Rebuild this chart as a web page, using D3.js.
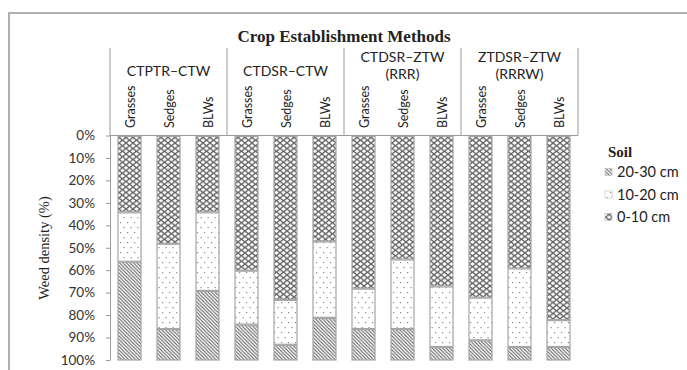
<!DOCTYPE html>
<html>
<head>
<meta charset="utf-8">
<script src="https://cdn.jsdelivr.net/npm/d3@7"></script>
<style>
  html, body { margin: 0; padding: 0; background: #fff; }
  svg { display: block; }
</style>
</head>
<body>
<svg id="chart" width="687" height="370"></svg>
<script>
// Crop establishment methods (groups) and weed categories
const groups = [
  ["CTPTR–CTW"],
  ["CTDSR–CTW"],
  ["CTDSR–ZTW", "(RRR)"],
  ["ZTDSR–ZTW", "(RRRW)"]
];
const categories = ["Grasses", "Sedges", "BLWs"];

// Share of weed density (%) by soil depth, one value per group × category
const soil0to10  = [34, 48, 34, 60, 73, 47, 68, 55, 67, 72, 59, 82];
const soil10to20 = [22, 38, 35, 24, 20, 34, 18, 31, 27, 19, 35, 12];
const soil20to30 = [44, 14, 31, 16,  7, 19, 14, 14,  6,  9,  6,  6];

const yTicks = [0, 10, 20, 30, 40, 50, 60, 70, 80, 90, 100];
const legendLabels = ["20-30 cm", "10-20 cm", "0-10 cm"];

const rows = [];
groups.forEach((g, gi) => {
  categories.forEach((c, ci) => {
    const i = gi * categories.length + ci;
    rows.push({ group: gi, cat: c,
      d0: soil0to10[i] / 100, d1: soil10to20[i] / 100, d2: soil20to30[i] / 100 });
  });
});

const svg = d3.select("#chart");
const sans = "Lato, 'Open Sans', sans-serif";
const serif = "'Liberation Serif', 'DejaVu Serif', serif";
const grey = "#9a9a9a";

// ---- fill patterns ----
const defs = svg.append("defs");
const cross = defs.append("pattern").attr("id", "p-cross")
  .attr("patternUnits", "userSpaceOnUse").attr("width", 7).attr("height", 5.5);
cross.append("rect").attr("width", 7).attr("height", 5.5).attr("fill", "#fff");
cross.append("path").attr("d", "M0,0L7,5.5M7,0L0,5.5")
  .attr("stroke", "#666").attr("stroke-width", 1.3);

const dots = defs.append("pattern").attr("id", "p-dots")
  .attr("patternUnits", "userSpaceOnUse").attr("width", 7).attr("height", 10);
dots.append("rect").attr("width", 7).attr("height", 10).attr("fill", "#fff");
dots.append("rect").attr("x", 1).attr("y", 2).attr("width", 1.2).attr("height", 1.2).attr("fill", "#888");
dots.append("rect").attr("x", 4.5).attr("y", 7).attr("width", 1.2).attr("height", 1.2).attr("fill", "#888");

const diag = defs.append("pattern").attr("id", "p-diag")
  .attr("patternUnits", "userSpaceOnUse").attr("width", 3.5).attr("height", 3.5);
diag.append("rect").attr("width", 3.5).attr("height", 3.5).attr("fill", "#fff");
diag.append("path").attr("d", "M-1,-1L4.5,4.5M-1,2.5L1,4.5M2.5,-1L4.5,1")
  .attr("stroke", "#555").attr("stroke-width", 1);

// ---- outer frame ----
svg.append("path").attr("d", "M9,370V13H687")
  .attr("fill", "none").attr("stroke", "#b0b0b0").attr("stroke-width", 2);

// ---- scales ----
const x0 = d3.scaleBand().domain(d3.range(groups.length)).range([110, 578]);
const x1 = d3.scaleBand().domain(categories).range([0, x0.bandwidth()])
  .paddingInner(0.41).paddingOuter(0.205);
const y = d3.scaleLinear().domain([0, 1]).range([135.5, 360]);

// ---- y axis ----
const yAxis = svg.append("g").attr("transform", "translate(110,0)")
  .call(d3.axisLeft(y).tickValues(yTicks.map(v => v / 100))
    .tickFormat(d3.format(".0%")).tickSize(4).tickSizeOuter(0).tickPadding(11));
yAxis.select(".domain").attr("stroke", grey);
yAxis.selectAll(".tick line").attr("stroke", grey);
yAxis.selectAll(".tick text").attr("font-family", sans).attr("font-size", 13.5)
  .attr("fill", "#333");

svg.append("text")
  .attr("transform", "translate(49,248) rotate(-90)")
  .attr("text-anchor", "middle").attr("font-family", serif).attr("font-size", 14.5)
  .attr("fill", "#222").text("Weed density (%)");

// ---- stacked bars ----
const stack = d3.stack().keys(["d0", "d1", "d2"]);
const series = stack(rows);
const fills = { d0: "url(#p-cross)", d1: "url(#p-dots)", d2: "url(#p-diag)" };

svg.append("g").selectAll("g").data(series).join("g")
  .attr("fill", s => fills[s.key])
  .selectAll("rect").data(s => s).join("rect")
  .attr("x", d => x0(d.data.group) + x1(d.data.cat))
  .attr("width", x1.bandwidth())
  .attr("y", d => y(d[0]) + 1)
  .attr("height", d => Math.max(0, y(d[1]) - y(d[0]) - 1))
  .attr("stroke", "#a5a5a5").attr("stroke-width", 1.2);

// ---- header: group boxes and labels ----
const head = svg.append("g");
const hTop = 48, hBot = 135.5;
head.append("line").attr("x1", x0.range()[0]).attr("x2", x0.range()[1])
  .attr("y1", hBot).attr("y2", hBot).attr("stroke", grey);
d3.range(groups.length + 1).forEach(i => {
  const xx = i < groups.length ? x0(i) : x0.range()[1];
  head.append("line").attr("x1", xx).attr("x2", xx).attr("y1", hTop).attr("y2", hBot)
    .attr("stroke", grey);
});

groups.forEach((lines, gi) => {
  const cx = x0(gi) + x0.bandwidth() / 2;
  const startY = lines.length === 1 ? 75.5 : 61.5;
  lines.forEach((ln, li) => {
    head.append("text").attr("text-anchor", "middle")
      .attr("font-family", sans).attr("font-size", 14).attr("fill", "#222")
      .attr("x", cx).attr("y", startY + li * 17).text(ln);
  });
  categories.forEach(c => {
    const cxx = x0(gi) + x1(c) + x1.bandwidth() / 2;
    head.append("text")
      .attr("transform", `translate(${cxx + 1.5},128) rotate(-90)`)
      .attr("dy", "0.35em").attr("text-anchor", "start")
      .attr("font-family", sans).attr("font-size", 12.5).attr("fill", "#222")
      .text(c);
  });
});

svg.append("text").attr("x", 344).attr("y", 42).attr("text-anchor", "middle")
  .attr("font-family", serif).attr("font-weight", "bold").attr("font-size", 17)
  .attr("fill", "#222").text("Crop Establishment Methods");

// ---- legend ----
const leg = svg.append("g");
leg.append("text").attr("x", 608).attr("y", 157)
  .attr("font-family", serif).attr("font-weight", "bold").attr("font-size", 15)
  .attr("fill", "#222").text("Soil");
const legFills = ["url(#p-diag)", "url(#p-dots)", "url(#p-cross)"];
legendLabels.forEach((lab, i) => {
  const yy = 172 + i * 22.5;
  leg.append("rect").attr("x", 605).attr("y", yy - 3.5).attr("width", 7).attr("height", 7)
    .attr("fill", legFills[i]).attr("stroke", "#bbb").attr("stroke-width", 0.6);
  leg.append("text").attr("x", 617).attr("y", yy).attr("dy", "0.35em")
    .attr("font-family", sans).attr("font-size", 14.5).attr("fill", "#222").text(lab);
});
</script>
</body>
</html>
